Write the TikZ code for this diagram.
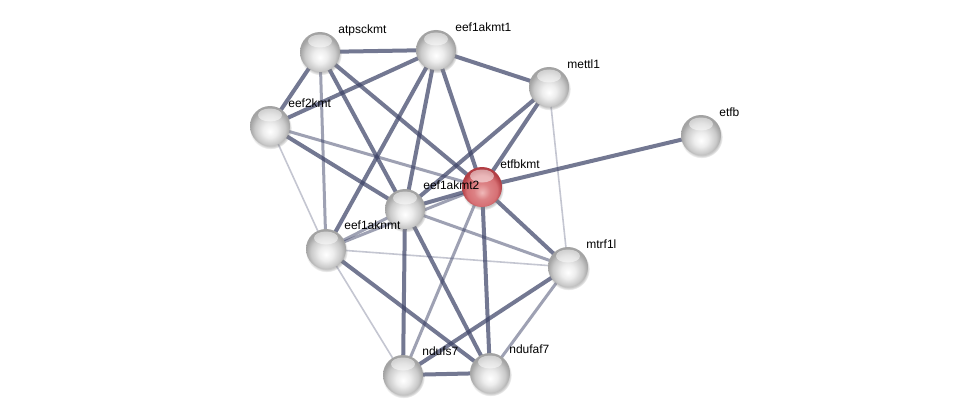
\documentclass[tikz,border=0pt]{standalone}
\usepackage{fontspec}
\setmainfont{Liberation Sans}
\usetikzlibrary{positioning, shadows}
\pgfdeclarelayer{background}
\pgfsetlayers{background,main}
\definecolor{edgecol}{RGB}{62,68,104}
\definecolor{redhi}{RGB}{240,185,185}
\definecolor{redmid}{RGB}{214,112,116}
\definecolor{redrim}{RGB}{178,62,68}
\pgfdeclareradialshading{greyball}{\pgfpoint{0bp}{-7bp}}{color(0bp)=(white); color(9bp)=(gray!14); color(19bp)=(gray!42); color(25bp)=(gray!72); color(50bp)=(gray!72)}
\pgfdeclareradialshading{redball}{\pgfpoint{0bp}{-7bp}}{color(0bp)=(redhi); color(10bp)=(redmid!75!redhi); color(19bp)=(redmid); color(25bp)=(redrim); color(50bp)=(redrim)}
\tikzstyle{prot}   = [circle, minimum size=40pt, inner sep=0pt, shade, shading=greyball,
                      circular drop shadow={shadow xshift=.6pt, shadow yshift=-2pt, shadow scale=1.06, opacity=.45},
                      path picture={\fill[white, opacity=.5] ([yshift=-9pt]path picture bounding box.north) ellipse (12pt and 6.5pt);}]
\tikzstyle{query}  = [prot, shading=redball]
\tikzstyle{lbl}    = [inner sep=0pt, text height=9pt, text depth=2.5pt, font=\fontsize{12}{14}\selectfont]
\tikzstyle{strong} = [line width=4pt, draw=edgecol, draw opacity=.72]
\tikzstyle{medium} = [line width=3pt, draw=edgecol, draw opacity=.5]
\tikzstyle{weak}   = [line width=1.6pt, draw=edgecol, draw opacity=.3]

\begin{document}
\begin{tikzpicture}[x=1pt, y=-1pt]
      \useasboundingbox (0,0) rectangle (975,420);

      \node (atpsckmt)  [prot]  at (320,52)  {};
      \node (eef1akmt1) [prot]  at (436,50)  {};
      \node (mettl1)    [prot]  at (549,87)  {};
      \node (eef2kmt)   [prot]  at (270,126) {};
      \node (etfb)      [prot]  at (701,135) {};
      \node (etfbkmt)   [query] at (482,187) {};
      \node (eef1akmt2) [prot]  at (405,209) {};
      \node (eef1aknmt) [prot]  at (326,249) {};
      \node (mtrf1l)    [prot]  at (568,267) {};
      \node (ndufs7)    [prot]  at (403,375) {};
      \node (ndufaf7)   [prot]  at (490,373) {};

      \node (atpsckmt-l)  [lbl, above right=1.4pt and 3.9pt of atpsckmt]  {atpsckmt};
      \node (eef1akmt1-l) [lbl, above right=1.4pt and 4.9pt of eef1akmt1] {eef1akmt1};
      \node (mettl1-l)    [lbl, above right=1.4pt and 3.9pt of mettl1]    {mettl1};
      \node (eef2kmt-l)   [lbl, above right=1.4pt and 3.9pt of eef2kmt]   {eef2kmt};
      \node (etfb-l)      [lbl, above right=1.4pt and 3.9pt of etfb]      {etfb};
      \node (etfbkmt-l)   [lbl, above right=1.4pt and 3.9pt of etfbkmt]   {etfbkmt};
      \node (eef1akmt2-l) [lbl, above right=2.4pt and 3.9pt of eef1akmt2] {eef1akmt2};
      \node (eef1aknmt-l) [lbl, above right=2.4pt and 3.9pt of eef1aknmt] {eef1aknmt};
      \node (mtrf1l-l)    [lbl, above right=1.4pt and 3.9pt of mtrf1l]    {mtrf1l};
      \node (ndufs7-l)    [lbl, above right=2.4pt and 4.9pt of ndufs7]    {ndufs7};
      \node (ndufaf7-l)   [lbl, above right=2.4pt and 4.9pt of ndufaf7]   {ndufaf7};

      \begin{pgfonlayer}{background}
      \fill [white] (0,0) rectangle (975,420);

      \draw [weak]   (mettl1.center)    -- (mtrf1l.center);
      \draw [weak]   (eef2kmt.center)   -- (eef1aknmt.center);
      \draw [weak]   (eef1aknmt.center) -- (mtrf1l.center);
      \draw [weak]   (eef1aknmt.center) -- (ndufs7.center);

      \draw [medium] (atpsckmt.center)  -- (eef1aknmt.center);
      \draw [medium] (eef2kmt.center)   -- (etfbkmt.center);
      \draw [medium] (eef1aknmt.center) -- (etfbkmt.center);
      \draw [medium] (eef1aknmt.center) -- (eef1akmt2.center);
      \draw [medium] (etfbkmt.center)   -- (ndufs7.center);
      \draw [medium] (eef1akmt2.center) -- (mtrf1l.center);
      \draw [medium] (mtrf1l.center)    -- (ndufaf7.center);

      \draw [strong] (atpsckmt.center)  -- (eef1akmt1.center);
      \draw [strong] (atpsckmt.center)  -- (eef2kmt.center);
      \draw [strong] (atpsckmt.center)  -- (eef1akmt2.center);
      \draw [strong] (atpsckmt.center)  -- (etfbkmt.center);

      \draw [strong] (eef1akmt1.center) -- (eef2kmt.center);
      \draw [strong] (eef1akmt1.center) -- (mettl1.center);
      \draw [strong] (eef1akmt1.center) -- (eef1aknmt.center);
      \draw [strong] (eef1akmt1.center) -- (eef1akmt2.center);
      \draw [strong] (eef1akmt1.center) -- (etfbkmt.center);

      \draw [strong] (mettl1.center)    -- (etfbkmt.center);
      \draw [strong] (mettl1.center)    -- (eef1akmt2.center);
      \draw [strong] (eef2kmt.center)   -- (eef1akmt2.center);

      \draw [strong] (etfbkmt.center)   -- (etfb.center);
      \draw [strong] (etfbkmt.center)   -- (eef1akmt2.center);
      \draw [strong] (etfbkmt.center)   -- (mtrf1l.center);
      \draw [strong] (etfbkmt.center)   -- (ndufaf7.center);

      \draw [strong] (eef1akmt2.center) -- (ndufs7.center);
      \draw [strong] (eef1akmt2.center) -- (ndufaf7.center);
      \draw [strong] (eef1aknmt.center) -- (ndufaf7.center);
      \draw [strong] (mtrf1l.center)    -- (ndufs7.center);
      \draw [strong] (ndufs7.center)    -- (ndufaf7.center);
      \end{pgfonlayer}

    \end{tikzpicture}
\end{document}
